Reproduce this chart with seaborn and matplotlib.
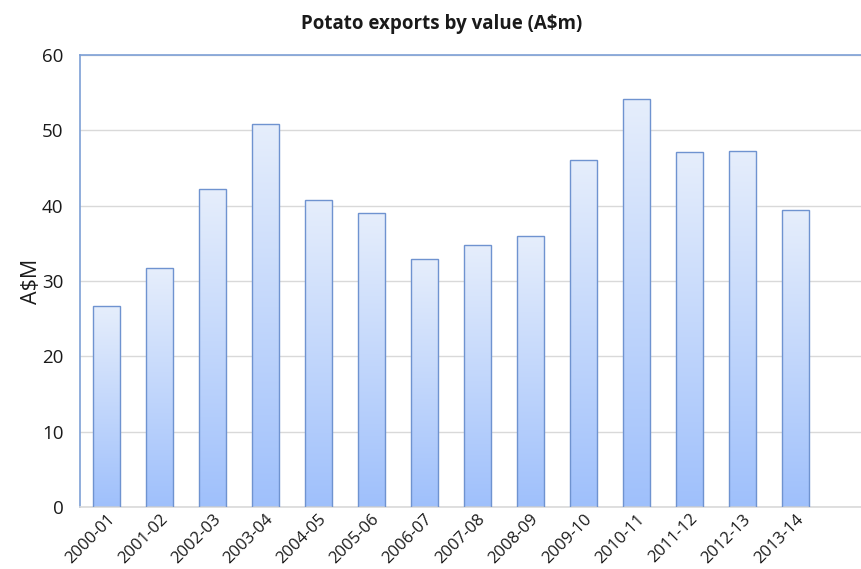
import numpy as np
import pandas as pd
import matplotlib
matplotlib.use("Agg")
import matplotlib.pyplot as plt
import seaborn as sns
from matplotlib.colors import LinearSegmentedColormap

years = ["2000-01", "2001-02", "2002-03", "2003-04", "2004-05", "2005-06", "2006-07",
         "2007-08", "2008-09", "2009-10", "2010-11", "2011-12", "2012-13", "2013-14"]
values = [26.7, 31.7, 42.2, 50.9, 40.8, 39.0, 32.9, 34.8, 36.0, 46.1, 54.2, 47.1, 47.3, 39.4]

df = pd.DataFrame({"year": years, "value": values})

sns.set_theme(style="white")
plt.rcParams['font.family'] = ['Open Sans', 'DejaVu Sans']

fig = plt.figure(figsize=(8.61, 5.69), dpi=100)
ax = fig.add_axes([0.093, 0.109, 0.907, 0.794])

sns.barplot(data=df, x="year", y="value", ax=ax, width=0.51,
            color="#c8daf9", edgecolor="#6f93d0", linewidth=1.0, zorder=3)

cmap = LinearSegmentedColormap.from_list("g", ["#9fc0fb", "#e6eefc"])
grad = np.linspace(0, 1, 256).reshape(-1, 1)
for p in ax.patches:
    x0, y0 = p.get_x(), p.get_y()
    w, h = p.get_width(), p.get_height()
    p.set_facecolor("none")
    im = ax.imshow(grad, cmap=cmap, aspect="auto", origin="lower",
                   extent=[x0, x0 + w, y0, y0 + h], zorder=2)
    im.set_clip_path(p)

ax.set_xlim(-0.5, 14.24)
ax.set_ylim(0, 60)
ax.set_yticks(range(0, 61, 10))
ax.yaxis.grid(True, color="#d9d9d9", linewidth=1.0, zorder=0)
ax.set_axisbelow(True)

ax.spines["right"].set_visible(False)
ax.spines["top"].set_color("#7da0d6")
ax.spines["left"].set_color("#7da0d6")
ax.spines["bottom"].set_color("#d9d9d9")
for s in ["top", "left", "bottom"]:
    ax.spines[s].set_linewidth(1.2)

ax.set_xlabel("")
ax.set_ylabel("A$M", fontsize=15.5, color="#1a1a1a", labelpad=0)
ax.tick_params(axis="y", labelsize=13.5, colors="#1a1a1a", length=0, pad=12)
ax.tick_params(axis="x", labelsize=12, colors="#1a1a1a", length=0, pad=3)
plt.setp(ax.get_xticklabels(), rotation=45, ha="right", rotation_mode="anchor")

fig.text(0.513, 0.957, "Potato exports by value (A$m)", ha="center", va="center",
         fontsize=13.5, fontweight="bold", color="#1a1a1a")

fig.savefig("out.png", dpi=100)
